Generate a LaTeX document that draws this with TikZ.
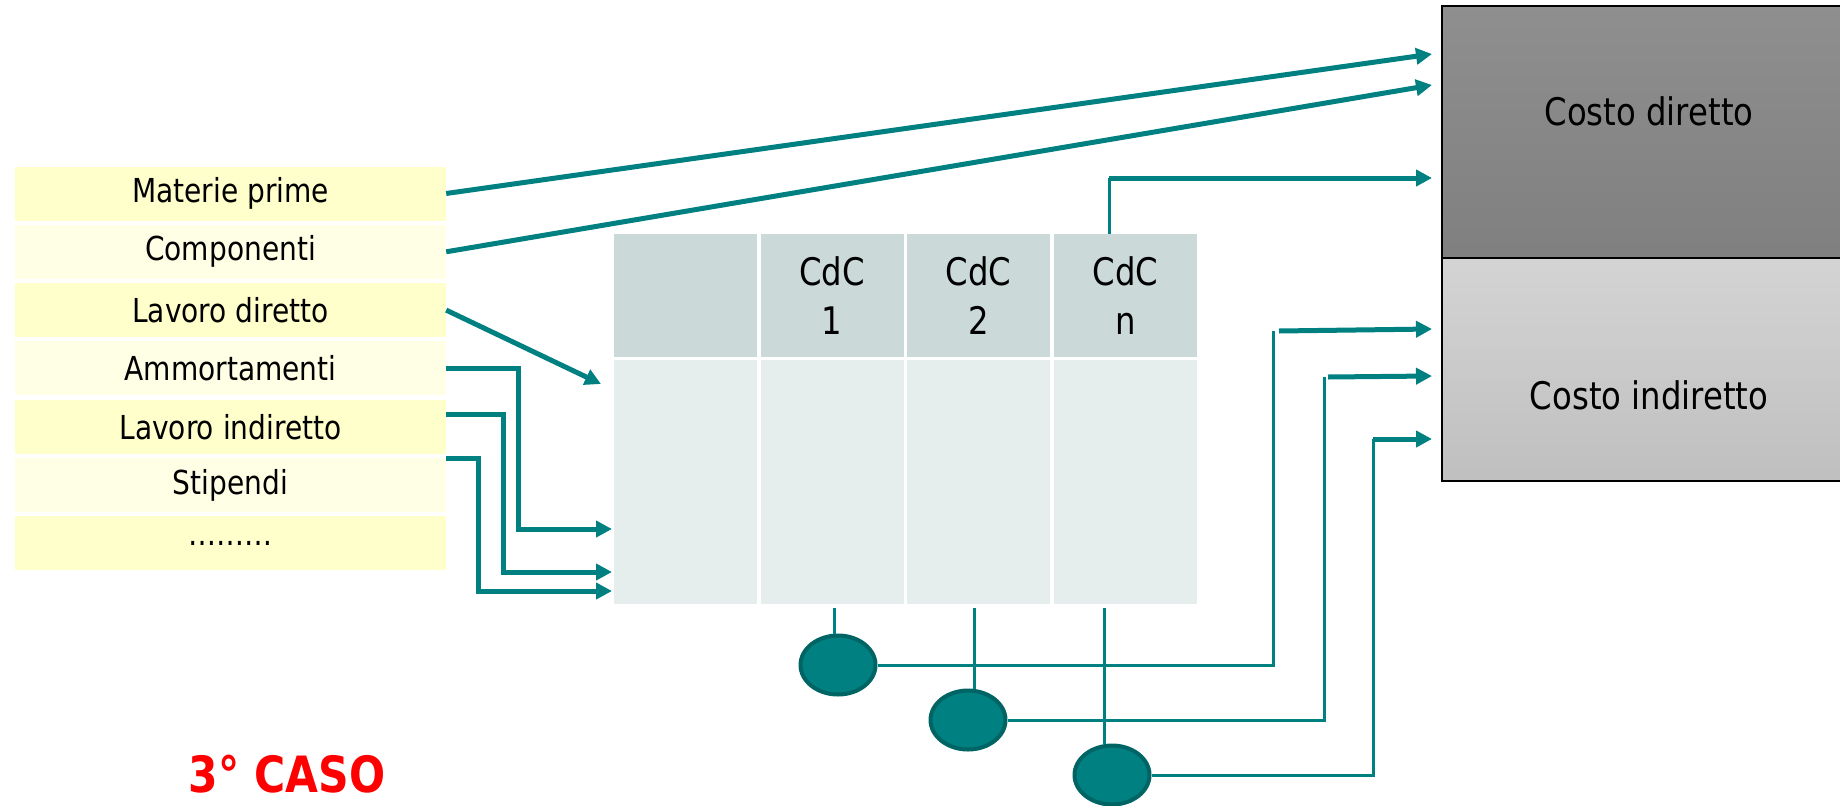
\documentclass[tikz,border=0pt]{standalone}
\usepackage{fontspec}
\setmainfont{DejaVu Sans}[FakeStretch=0.85]
\usetikzlibrary{arrows.meta,shapes.geometric}

\definecolor{verde}{HTML}{008080}
\definecolor{verdescuro}{HTML}{006464}
\definecolor{giallo}{HTML}{FFFFCC}
\definecolor{giallochiaro}{HTML}{FFFFE6}
\definecolor{testata}{HTML}{CBD9D9}
\definecolor{corpo}{HTML}{E6EDED}

\begin{document}
\begin{tikzpicture}[x=1pt,y=-1pt,
  voce/.style={minimum width=431pt,minimum height=54pt,inner sep=0pt,font=\fontsize{33}{38}\selectfont},
  cella/.style={minimum width=143pt,inner sep=0pt,align=center,font=\fontsize{38}{49}\selectfont},
  costo/.style={font=\fontsize{38}{46}\selectfont},
  freccia/.style={draw=verde,line width=5pt,-{Triangle[length=16pt,width=16pt]}},
  filo/.style={draw=verde,line width=3pt},
  cdc/.style={ellipse,minimum width=75pt,minimum height=59pt,fill=verde,draw=verdescuro,line width=4pt}]
\useasboundingbox (0,0) rectangle (1840,806);

% voci di costo
\node[voce,fill=giallo] (mp) at (230.5,193.5) {Materie prime};
\node[voce,fill=giallochiaro] (comp) at (230.5,251.8) {Componenti};
\node[voce,fill=giallo] (ld) at (230.5,310.1) {Lavoro diretto};
\node[voce,fill=giallochiaro] (amm) at (230.5,368.4) {Ammortamenti};
\node[voce,fill=giallo] (li) at (230.5,426.7) {Lavoro indiretto};
\node[voce,fill=giallochiaro] (stip) at (230.5,485) {Stipendi};
\node[voce,fill=giallo] (dots) at (230.5,543.3) {………};

% centri di costo
\node[cella,minimum height=123pt,fill=testata] (h0) at (685.5,295.5) {};
\node[cella,minimum height=123pt,fill=testata] (h1) at (832,295.5) {CdC\\1};
\node[cella,minimum height=123pt,fill=testata] (h2) at (978.5,295.5) {CdC\\2};
\node[cella,minimum height=123pt,fill=testata] (h3) at (1125.5,295.5) {CdC\\n};
\node[cella,minimum height=244pt,fill=corpo] (b0) at (685.5,482) {};
\node[cella,minimum height=244pt,fill=corpo] (b1) at (832,482) {};
\node[cella,minimum height=244pt,fill=corpo] (b2) at (978.5,482) {};
\node[cella,minimum height=244pt,fill=corpo] (b3) at (1125.5,482) {};

% costo del prodotto
\node[draw=black,line width=1.5pt,minimum width=408pt,minimum height=252pt,top color=black!44,bottom color=black!50] (cd) at (1646,132) {};
\node[draw=black,line width=1.5pt,minimum width=408pt,minimum height=223pt,top color=black!17,bottom color=black!25] (ci) at (1646,369.5) {};
\node[costo] (cdt) at (1649,111) {Costo diretto};
\node[costo] (cit) at (1649,395) {Costo indiretto};

\node (c1) at (838,665) [cdc]{};
\node (c2) at (968,720) [cdc]{};
\node (c3) at (1112,775) [cdc]{};

\coordinate (t1) at (1432,54);
\coordinate (t2) at (1432,85);
\coordinate (t3) at (1432,178);
\coordinate (q) at (1109,178);
\coordinate (d) at (601,384);
\coordinate (e1) at (612,529);
\coordinate (e2) at (612,572);
\coordinate (e3) at (612,591);
\coordinate (k1) at (1273,331);
\coordinate (k2) at (1324,377);
\coordinate (k3) at (1373,439);
\coordinate (p1) at (1432,329);
\coordinate (p2) at (1432,376);
\coordinate (p3) at (1432,439);
\coordinate (v1) at (834,608);
\coordinate (v2) at (974,608);
\coordinate (v3) at (1104,608);

\draw[freccia] (mp.east) -- (t1);
\draw[freccia] (comp.east) -- (t2);
\draw[freccia] (ld.east) -- (d);
\draw[freccia] (amm.east) -- ++(72,0) |- (e1);
\draw[freccia] ([yshift=12pt]li.east) -- ++(57,0) |- (e2);
\draw[freccia] ([yshift=27pt]stip.east) -- ++(32,0) |- (e3);

\draw[filo] (h3.north -| q) -- (q);
\draw[freccia] (q) -- (t3);

\draw[filo] (v1) -- (v1 |- c1.north);
\draw[filo] (v2) -- (v2 |- c2.north);
\draw[filo] (v3) -- (v3 |- c3.north);

\draw[filo] (c1.east) -| (k1);
\draw[filo] (c2.east) -| (k2);
\draw[filo] (c3.east) -| (k3);
\draw[freccia] ([xshift=6pt]k1) -- (p1);
\draw[freccia] ([xshift=4pt]k2) -- (p2);
\draw[freccia] (k3) -- (p3);

\node[font=\bfseries\fontsize{50}{58}\selectfont,text=red,inner sep=0pt] (caso) at (287,774) {3° CASO};
\end{tikzpicture}
\end{document}
